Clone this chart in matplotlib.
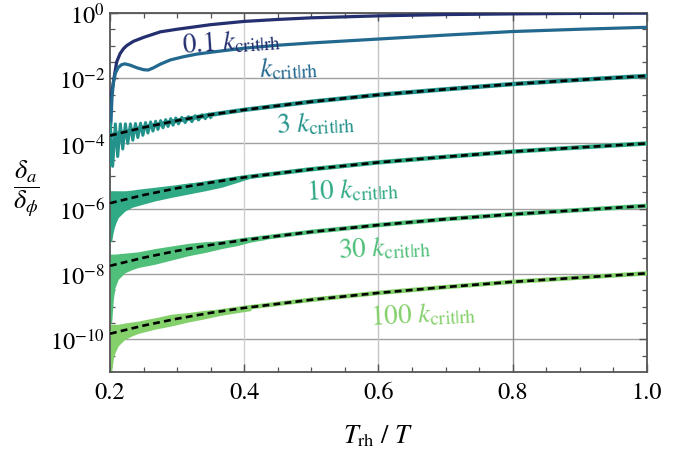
import numpy as np
import matplotlib
matplotlib.use("Agg")
import matplotlib.pyplot as plt
from matplotlib.ticker import FixedLocator, NullFormatter

plt.rcParams["font.family"] = ["STIXGeneral", "DejaVu Serif"]
plt.rcParams["mathtext.fontset"] = "stix"

# colours of the six curves, k = 0.1, 1, 3, 10, 30, 100 k_crit|rh
colors = ["#242f6f", "#22688f", "#23928b", "#30a985", "#4fbf79", "#84d06a"]
labels = [r"$0.1\ k_{\mathrm{crit}|\mathrm{rh}}$", r"$k_{\mathrm{crit}|\mathrm{rh}}$",
          r"$3\ k_{\mathrm{crit}|\mathrm{rh}}$", r"$10\ k_{\mathrm{crit}|\mathrm{rh}}$",
          r"$30\ k_{\mathrm{crit}|\mathrm{rh}}$", r"$100\ k_{\mathrm{crit}|\mathrm{rh}}$"]

# all y values are log10(delta_a / delta_phi)
x_01 = [0.2, 0.203, 0.206, 0.21, 0.215, 0.22, 0.225, 0.235, 0.25, 0.275, 0.3, 0.35,
        0.4, 0.45, 0.5, 0.6, 0.7, 0.8, 0.9, 1.0]
y_01 = [-2.8, -2.4, -2.0, -1.5, -1.25, -1.1, -1.0, -0.87, -0.75, -0.58, -0.5, -0.36,
        -0.26, -0.2, -0.15, -0.09, -0.05, -0.03, -0.015, -0.005]

x_1 = [0.2, 0.2015, 0.203, 0.205, 0.208, 0.212, 0.217, 0.222, 0.23, 0.24, 0.25, 0.257,
       0.265, 0.275, 0.29, 0.31, 0.33, 0.36, 0.4, 0.45, 0.5, 0.55, 0.6, 0.7, 0.8, 0.9, 1.0]
y_1 = [-3.6, -3.35, -2.6, -2.15, -1.85, -1.68, -1.59, -1.56, -1.6, -1.68, -1.74, -1.75,
       -1.68, -1.57, -1.44, -1.34, -1.26, -1.18, -1.08, -0.99, -0.92, -0.86, -0.80,
       -0.68, -0.57, -0.5, -0.44]

# late-time power-law fits (dashed) for 3, 10, 30, 100 k
fit_x = [0.2, 0.25, 0.3, 0.35, 0.4, 0.5, 0.6, 0.7, 0.8, 0.9, 1.0]
fit_3 = [-3.76, -3.51, -3.30, -3.12, -2.97, -2.72, -2.51, -2.34, -2.18, -2.05, -1.93]
fit_10 = [-5.83, -5.58, -5.37, -5.20, -5.04, -4.79, -4.58, -4.41, -4.25, -4.12, -4.00]
fit_30 = [-7.75, -7.50, -7.29, -7.11, -6.96, -6.71, -6.50, -6.32, -6.17, -6.04, -5.91]
fit_100 = [-9.83, -9.58, -9.37, -9.19, -9.04, -8.79, -8.58, -8.40, -8.24, -8.11, -7.98]

# early oscillations of the 3 k curve (tops and bottoms of the teeth)
osc3_x = [0.2005, 0.2040, 0.2080, 0.2115, 0.2155, 0.2190, 0.2230, 0.2265, 0.2305, 0.2340,
          0.2380, 0.2415, 0.2455, 0.2490, 0.2530, 0.2565, 0.2605, 0.2640, 0.2680, 0.2715,
          0.2755, 0.2790, 0.2830, 0.2865, 0.2905, 0.2940, 0.2980, 0.3020, 0.3070, 0.3120,
          0.3170, 0.3220, 0.3270, 0.3320, 0.3370, 0.3420, 0.3470, 0.3500]
osc3_y = [-3.40, -4.70, -3.40, -4.40, -3.40, -4.17, -3.40, -4.00, -3.40, -3.90,
          -3.39, -3.82, -3.38, -3.75, -3.36, -3.68, -3.34, -3.62, -3.32, -3.57,
          -3.30, -3.52, -3.27, -3.48, -3.24, -3.44, -3.22, -3.40, -3.20, -3.36,
          -3.18, -3.33, -3.15, -3.28, -3.12, -3.24, -3.10, -3.20]

# envelopes of the fast oscillations for 10, 30, 100 k
band_x = [0.2, 0.2025, 0.205, 0.2075, 0.2124, 0.2224, 0.2324, 0.2423, 0.2672, 0.292,
          0.3169, 0.3418, 0.3667, 0.3916, 0.41, 0.4328]
band10_hi = [-5.45, -5.45, -5.45, -5.45, -5.45, -5.45, -5.43, -5.40, -5.34, -5.28,
             -5.21, -5.16, -5.09, -5.03, -4.99, -4.96]
band10_lo = [-7.0, -7.0, -6.7, -6.5, -6.27, -6.07, -5.96, -5.90, -5.76, -5.65,
             -5.55, -5.45, -5.34, -5.18, -5.06, -4.99]
band30_hi = [-7.39, -7.39, -7.39, -7.39, -7.38, -7.36, -7.34, -7.32, -7.22, -7.14,
             -7.06, -7.01, -6.98, -6.93, -6.88, -6.82]
band30_lo = [-9.5, -9.5, -8.77, -8.42, -8.16, -7.96, -7.87, -7.80, -7.70, -7.57,
             -7.44, -7.34, -7.22, -7.12, -7.02, -6.94]
band100_hi = [-9.54, -9.54, -9.54, -9.54, -9.54, -9.50, -9.47, -9.44, -9.34, -9.23,
              -9.18, -9.11, -9.08, -9.00, -8.96]
band100_lo = [-11.0, -11.0, -10.6, -10.41, -10.2, -10.0, -9.9, -9.82, -9.69, -9.59,
              -9.47, -9.37, -9.26, -9.18, -9.12]

# label centres (x, log10 y) and tilt
label_x = [0.381, 0.466, 0.506, 0.561, 0.609, 0.666]
label_y = [-0.86, -1.66, -3.38, -5.40, -7.19, -9.23]
label_rot = [4, 3, 3, 3, 3, 3]

fig = plt.figure(figsize=(6.96, 4.52), dpi=100)
ax = fig.add_axes([0.158, 0.175, 0.7716, 0.7942])
ax.set_yscale("log")

p = lambda v: 10.0 ** np.array(v)

# bands first, then lines, dashed fits on top
ax.fill_between(band_x, p(band10_lo), p(band10_hi), color=colors[3], lw=0, zorder=2)
ax.fill_between(band_x, p(band30_lo), p(band30_hi), color=colors[4], lw=0, zorder=2)
ax.fill_between(band_x[:15], p(band100_lo), p(band100_hi), color=colors[5], lw=0, zorder=2)

ax.plot(x_01, p(y_01), color=colors[0], lw=2.3, zorder=3)
ax.plot(x_1, p(y_1), color=colors[1], lw=2.3, zorder=3)
ax.plot(osc3_x, p(osc3_y), color=colors[2], lw=2.2, zorder=3)
ax.plot([0.2, 0.2], p([-3.4, -4.7]), color=colors[2], lw=1.5, zorder=3)

fits = [fit_3, fit_10, fit_30, fit_100]
for f, c in zip(fits, colors[2:]):
    ax.plot(fit_x, p(f), color=c, lw=3.2, zorder=3, solid_capstyle="butt")
for f in fits:
    ax.plot(fit_x, p(f), color="black", lw=1.9, dashes=(2.6, 1.6), zorder=4)

for t, c, lx, ly, r in zip(labels, colors, label_x, label_y, label_rot):
    ax.text(lx, 10.0 ** ly, t, color=c, fontsize=19.5, rotation=r,
            ha="center", va="center", zorder=5)

ax.set_xlim(0.2, 1.0)
ax.set_ylim(1e-11, 1)

ax.xaxis.set_major_locator(FixedLocator([0.2, 0.4, 0.6, 0.8, 1.0]))
ax.xaxis.set_minor_locator(FixedLocator([0.25, 0.3, 0.35, 0.45, 0.5, 0.55, 0.65, 0.7,
                                         0.75, 0.85, 0.9, 0.95]))
ax.set_xticklabels(["0.2", "0.4", "0.6", "0.8", "1.0"])
ax.yaxis.set_major_locator(FixedLocator([1e0, 1e-2, 1e-4, 1e-6, 1e-8, 1e-10]))
ax.yaxis.set_minor_locator(FixedLocator([10.0 ** (-k / 2) for k in range(1, 22) if k % 4]))
ax.yaxis.set_minor_formatter(NullFormatter())

ax.tick_params(which="both", direction="in", top=True, right=True, colors="#555555",
               labelcolor="black", labelsize=17.5)
ax.tick_params(which="major", length=6, width=1.0)
ax.tick_params(which="minor", length=3.5, width=0.9)
ax.tick_params(axis="x", pad=7)

for e in [1e0, 1e-2, 1e-4, 1e-6, 1e-8, 1e-10]:
    ax.axhline(e, color="#a0a0a0", lw=1.0, zorder=1)
ax.axvline(0.4, color="#cfcfcf", lw=1.0, zorder=1)
ax.axvline(0.6, color="#c4c4c4", lw=1.0, zorder=1)
ax.axvline(0.8, color="#8c8c8c", lw=1.0, zorder=1)

for s in ax.spines.values():
    s.set_color("#555555")
    s.set_linewidth(1.3)

ax.text(0.5, -0.178, r"$T_{\mathrm{rh}}\ /\ T$", transform=ax.transAxes,
        ha="center", va="center", fontsize=19)
ax.text(-0.155, 0.51, r"$\dfrac{\delta_a}{\delta_\phi}$", transform=ax.transAxes,
        ha="center", va="center", fontsize=19)

fig.savefig("out.png", dpi=100)
